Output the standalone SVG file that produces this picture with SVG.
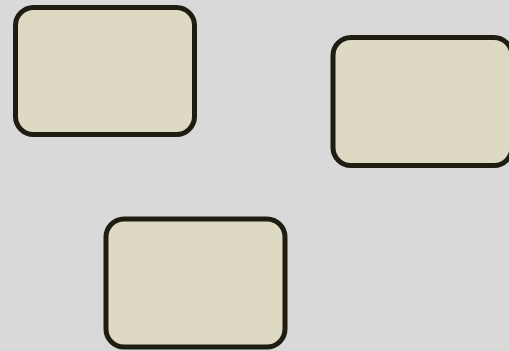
<svg xmlns="http://www.w3.org/2000/svg" width="509" height="351" viewBox="0 0 509 351">
<style>
.box{fill:#ddd9c3;stroke:#1f1c12;stroke-width:5}
</style>
<rect x="0" y="0" width="509" height="351" fill="#d9d9d9"/>
<g id="node1"><rect class="box" x="15.5" y="7.5" width="179" height="127" rx="18" ry="18"/></g>
<g id="node2"><rect class="box" x="333" y="37.5" width="179" height="128" rx="18" ry="18"/></g>
<g id="node3"><rect class="box" x="106" y="219" width="179" height="128" rx="18" ry="18"/></g>
<g id="connectors"></g>
</svg>
